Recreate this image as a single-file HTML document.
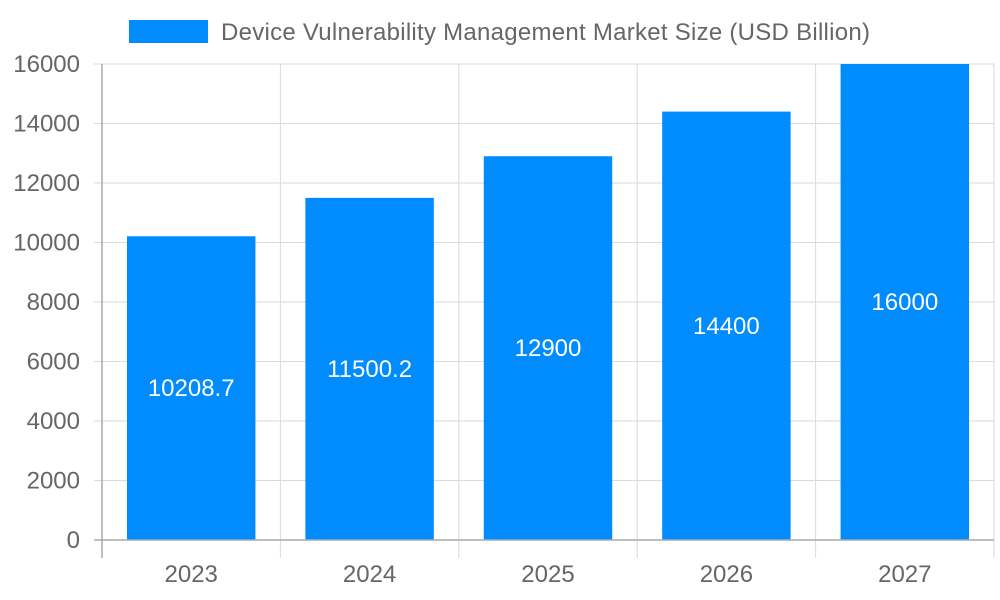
<!DOCTYPE html>
<html><head><meta charset="utf-8"><style>
html,body{margin:0;padding:0;background:#fff;}
svg{display:block;font-family:"Liberation Sans",sans-serif;}
</style></head><body>
<svg id="chart" width="1000" height="600">
<g id="grid"></g>
<g id="bars"></g>
<g id="axes"></g>
<g>
<rect x="129" y="20" width="79" height="23" fill="#008cff"/>
<text x="221" y="40" font-size="24" fill="#666" textLength="649" lengthAdjust="spacing">Device Vulnerability Management Market Size (USD Billion)</text>
</g>
</svg>
<script>
const categories = ["2023","2024","2025","2026","2027"];
const values = [10208.7, 11500.2, 12900, 14400, 16000];
const valueLabels = ["10208.7","11500.2","12900","14400","16000"];
const yTicks = [0,2000,4000,6000,8000,10000,12000,14000,16000];
const NS="http://www.w3.org/2000/svg";
const L=102,R=994,T=64,B=540,yMax=16000;
const band=(R-L)/categories.length;
const y=v=>B-(v/yMax)*(B-T);
const xb=i=>L+i*band;
function mk(tag,attrs,parent,text){const e=document.createElementNS(NS,tag);for(const k in attrs)e.setAttribute(k,attrs[k]);if(text!==undefined)e.textContent=text;parent.appendChild(e);return e;}
const grid=document.getElementById('grid'),bars=document.getElementById('bars'),axes=document.getElementById('axes');
yTicks.forEach(t=>{
  const ln=mk('line',{x1:L-8,x2:R,y1:y(t),y2:y(t),stroke:'#dadada','stroke-width':1},grid);
  
  
  const tx=mk('text',{x:80,y:y(t)+8,'text-anchor':'end','font-size':24,fill:'#666'},axes,String(t));
  
  
});
for(let i=0;i<=categories.length;i++){
  const ln=mk('line',{x1:xb(i),x2:xb(i),y1:T,y2:B+18,stroke:'#dadada','stroke-width':1},grid);
  
  
}
categories.forEach((c,i)=>{
  const bw=band*0.72,x0=xb(i)+(band-bw)/2;
  const r=mk('rect',{x:x0,y:y(values[i]),width:bw,height:B-y(values[i]),fill:'#008cff'},bars);
  
  
  const vl=mk('text',{x:x0+bw/2,y:(y(values[i])+B)/2+8,'text-anchor':'middle','font-size':24,fill:'#fff'},bars,valueLabels[i]);
  
  
  const xl=mk('text',{x:xb(i)+band/2,y:582,'text-anchor':'middle','font-size':24,fill:'#666'},axes,c);
  
  
});
const ya=mk('line',{x1:L,x2:L,y1:T,y2:B+18,stroke:'#aaa','stroke-width':1.5},axes);


const xa=mk('line',{x1:L-8,x2:R,y1:B,y2:B,stroke:'#aaa','stroke-width':1.5},axes);


</script>
</body></html>
